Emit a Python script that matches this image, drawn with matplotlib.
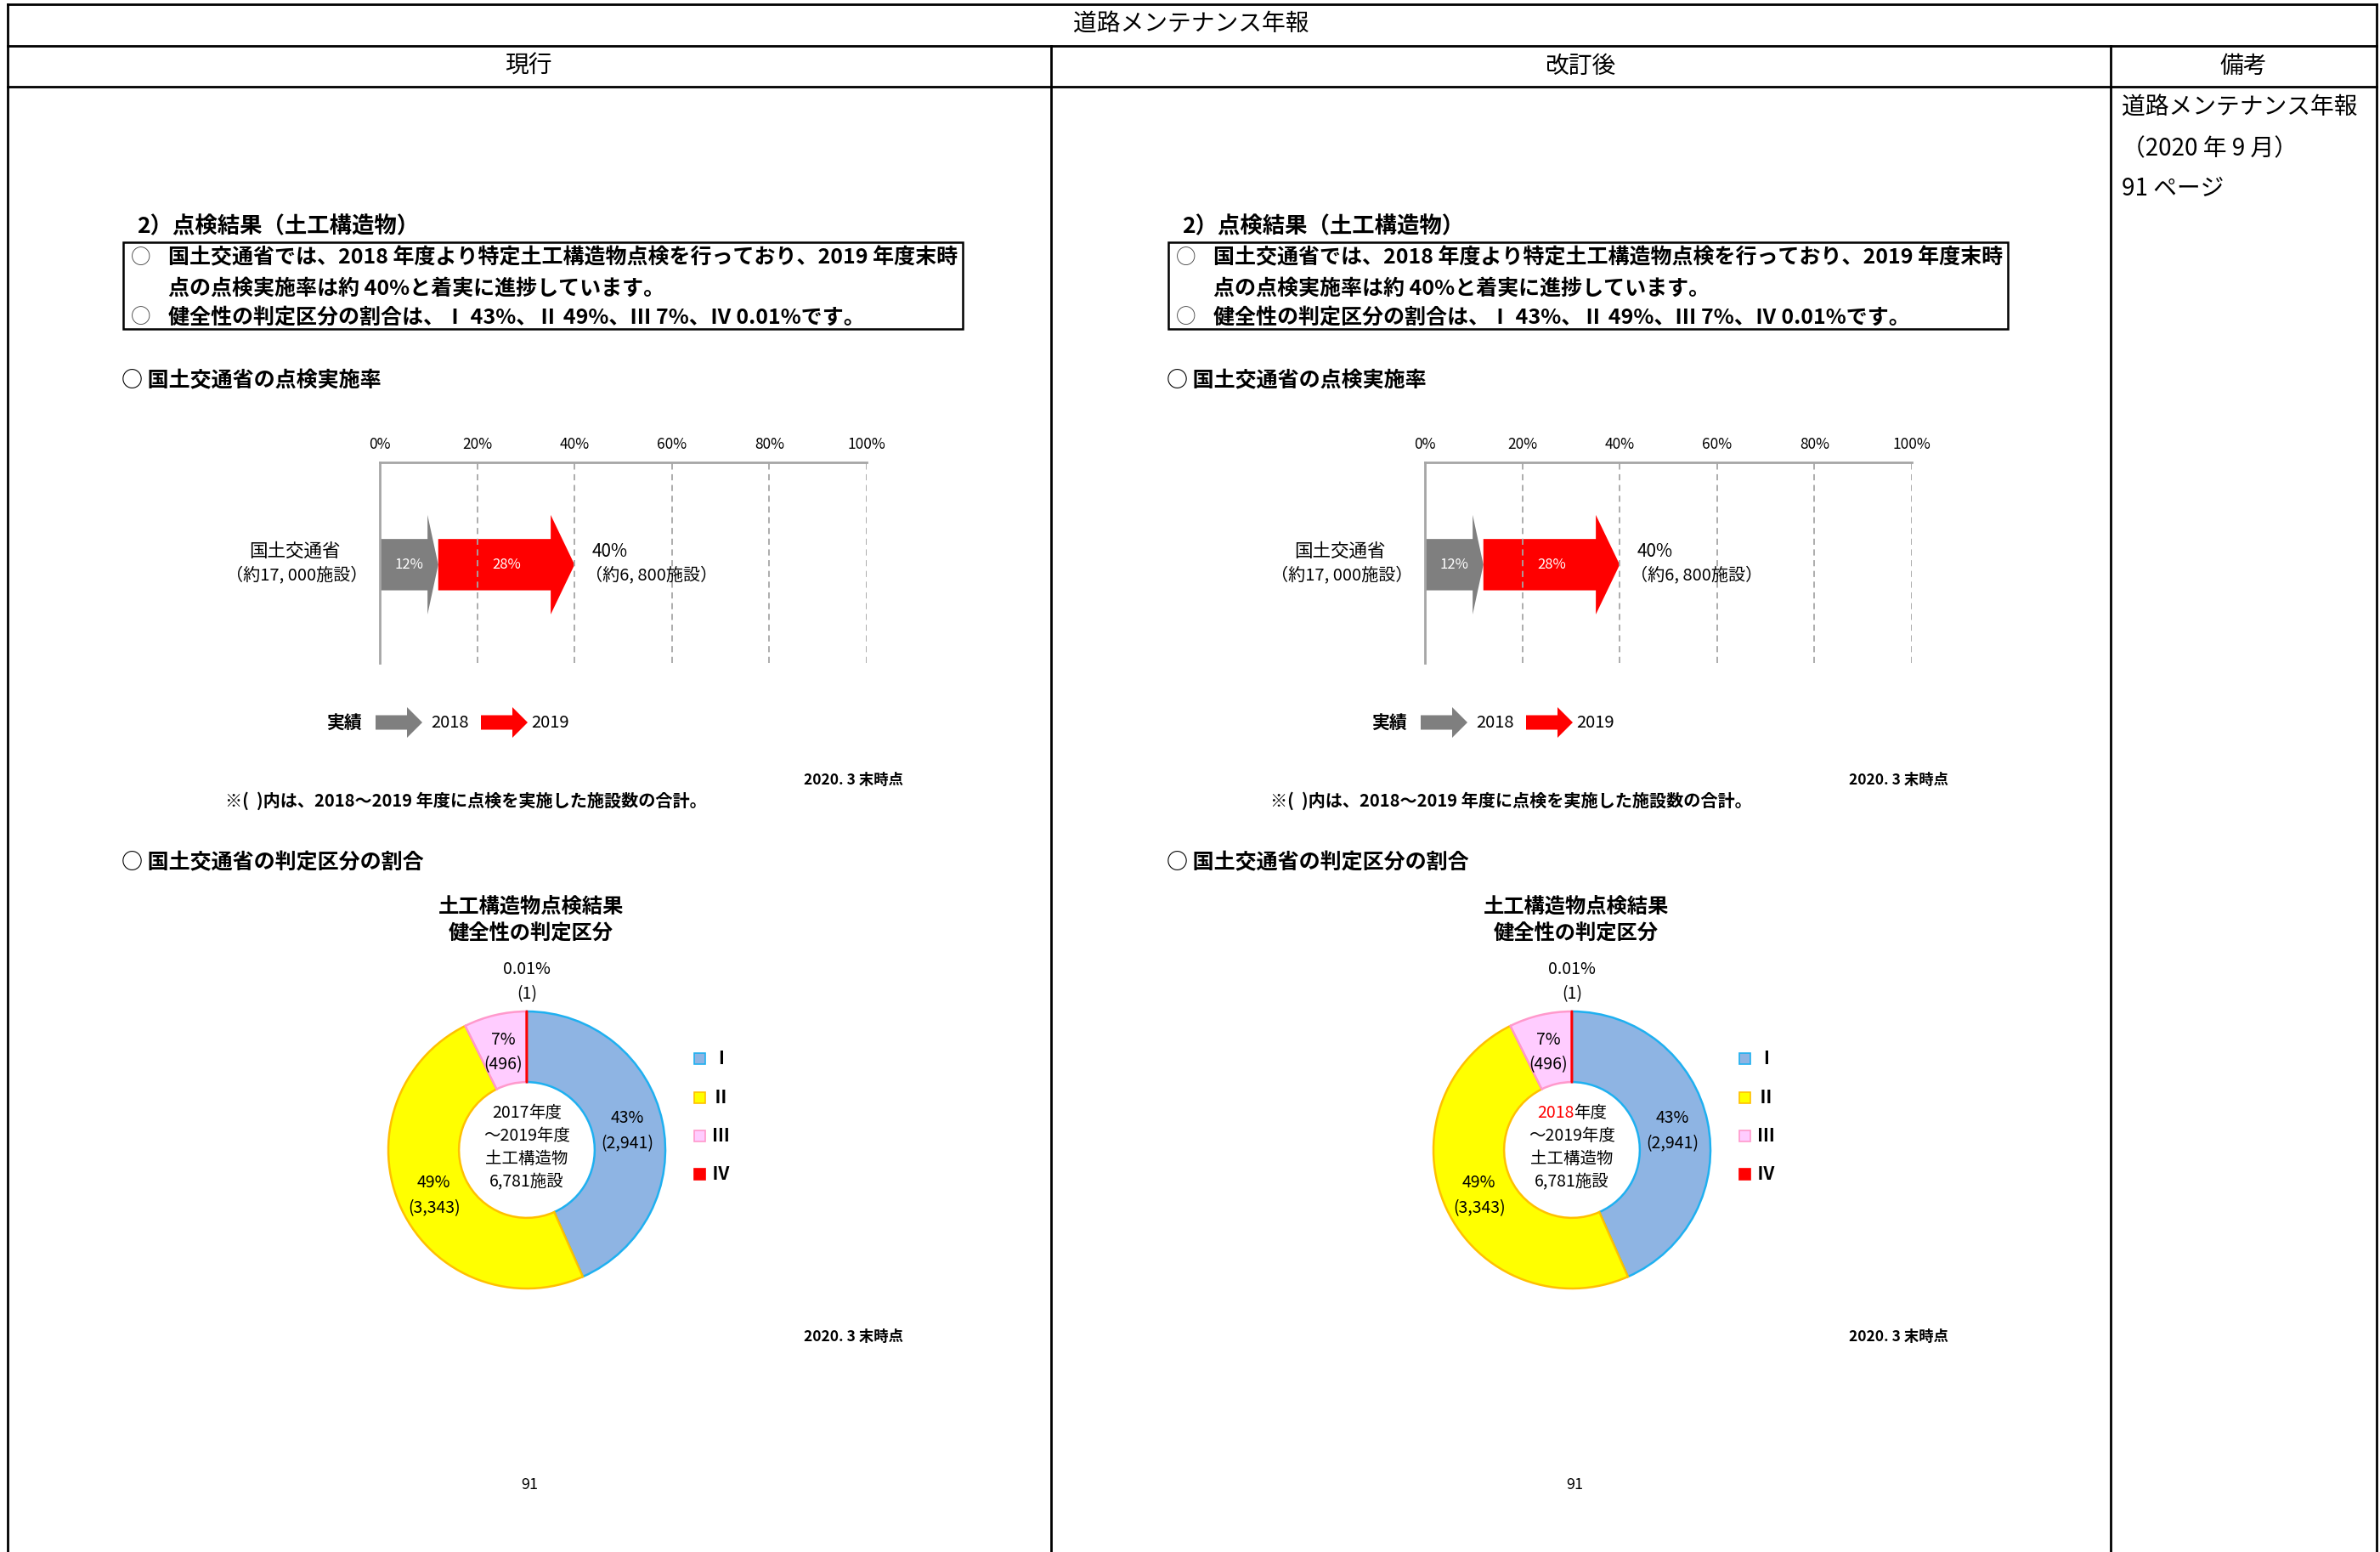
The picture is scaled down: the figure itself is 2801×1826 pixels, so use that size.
import numpy as np
import matplotlib.pyplot as plt
from matplotlib.patches import FancyArrow, Rectangle

plt.rcParams['font.family'] = ['Noto Sans CJK JP', 'DejaVu Sans']

# ---- document text ----
doc_title = '道路メンテナンス年報'
col_heads = ['現行', '改訂後', '備考']
remarks = ['道路メンテナンス年報', '（2020 年 9 月）', '91 ページ']
section_title = '2）点検結果（土工構造物）'
summary_lines = ['国土交通省では、2018 年度より特定土工構造物点検を行っており、2019 年度末時',
                 '点の点検実施率は約 40%と着実に進捗しています。',
                 '健全性の判定区分の割合は、Ⅰ 43%、Ⅱ 49%、Ⅲ 7%、Ⅳ 0.01%です。']

# ---- inspection rate (arrow bar) ----
rate_ticks = [0, 20, 40, 60, 80, 100]
rate_years = ['2018', '2019']
rate_values = [12, 28]
rate_name = ['国土交通省', '（約17, 000施設）']
rate_done = '（約6, 800施設）'
rate_note = '※(  )内は、2018～2019 年度に点検を実施した施設数の合計。'
as_of = '2020. 3 末時点'

# ---- soundness grades (donut) ----
grades = ['Ⅰ', 'Ⅱ', 'Ⅲ', 'Ⅳ']
grade_counts = [2941, 3343, 496, 1]
grade_shares = ['43%', '49%', '7%', '0.01%']
donut_title = ['土工構造物点検結果', '健全性の判定区分']
first_years = ['2017', '2018']      # current / revised
center_rest = ['～2019年度', '土工構造物', '6,781施設']

# styles
rate_colors = ['#7F7F7F', '#FF0000']
grade_fill = ['#8EB4E3', '#FFFF00', '#FFCCFF', '#FF0000']
grade_edge = ['#1FB0F0', '#FFC000', '#FF99CC', '#FF0000']
grid_gray = '#A6A6A6'

W, H = 2801, 1826
fig = plt.figure(figsize=(W / 100, H / 100), dpi=100)
page = fig.add_axes([0, 0, 1, 1])
page.set_xlim(0, W)
page.set_ylim(H, 0)
page.axis('off')


def px_axes(x0, y0, x1, y1):
    return fig.add_axes([x0 / W, 1 - y1 / H, (x1 - x0) / W, (y1 - y0) / H])


# Table frame
lw = 2.0
for y in [5, 54, 102]:
    page.plot([9, 2797], [y, y], color='k', lw=lw, solid_capstyle='projecting')
for x, y0 in [(9, 5), (2797, 5), (1237, 54), (2484, 54)]:
    page.plot([x, x], [y0, H], color='k', lw=lw)

page.text(1402, 29, doc_title, ha='center', va='center', fontsize=20)
for x, s in zip([622, 1860, 2640], col_heads):
    page.text(x, 78, s, ha='center', va='center', fontsize=20)
for y, s in zip([127, 175, 222], remarks):
    page.text(2497, y, s, ha='left', va='center', fontsize=20)


def draw_panel(off, first_year, year_color):
    def t(x, y, s, **kw):
        kw.setdefault('va', 'center')
        return page.text(x + off, y, s, **kw)

    # Section header and summary box
    t(161, 267, section_title, fontsize=19, fontweight='bold')
    page.add_patch(Rectangle((145 + off, 285), 988, 102, fill=False, ec='k', lw=1.8))
    for (x, y), s in zip([(198, 303), (198, 340), (198, 374)], summary_lines):
        t(x, y, s, fontsize=18, fontweight='bold')
    for y in [303, 374]:
        t(166, y, '○', fontsize=17, ha='center', color='#444444')

    # Inspection rate chart
    t(143, 448, '○ 国土交通省の点検実施率', fontsize=18, fontweight='bold')
    ax = px_axes(447 + off, 544, 1020 + off, 780)
    ax.set_xlim(0, 100)
    ax.set_ylim(0, 1)
    for s in ax.spines.values():
        s.set_visible(False)
    ax.set_yticks([])
    ax.xaxis.tick_top()
    ax.set_xticks(rate_ticks)
    ax.set_xticklabels([f'{v}%' for v in rate_ticks], fontsize=12.5)
    ax.tick_params(axis='x', length=0, pad=9)
    for v in rate_ticks[1:]:
        ax.axvline(v, color=grid_gray, lw=1.3, ls=(0, (4, 3)))
    ax.axvline(0, color=grid_gray, lw=2, clip_on=False)
    ax.axhline(1, color=grid_gray, lw=2, clip_on=False)

    left = 0
    for v, c, hl in zip(rate_values, rate_colors, [2.2, 4.9]):
        ax.add_patch(FancyArrow(left, 0.49, v, 0, width=0.256, head_width=0.496,
                                head_length=hl, length_includes_head=True, color=c, lw=0))
        ax.text(left + v / 2, 0.49, f'{v}%', color='white', ha='center', va='center', fontsize=12)
        left += v
    ax.text(left + 3.5, 0.556, f'{left}%', ha='left', va='center', fontsize=15)
    ax.text(left + 2.3, 0.436, rate_done, ha='left', va='center', fontsize=14.5)
    ax.text(-17.5, 0.556, rate_name[0], ha='center', va='center', fontsize=15.5)
    ax.text(-17.0, 0.436, rate_name[1], ha='center', va='center', fontsize=14.5)

    # arrow legend
    t(405, 850, '実績', fontsize=15, fontweight='bold', ha='center')
    for x0, x_txt, c, yr in zip([442, 566], [529, 648], rate_colors, rate_years):
        page.add_patch(FancyArrow(x0 + off, 850, 55, 0, width=17, head_width=36, head_length=18,
                                  length_includes_head=True, color=c, lw=0))
        t(x_txt, 850, yr, fontsize=14.5, ha='center')
    t(1004, 918, as_of, fontsize=12.5, ha='center', fontweight='bold')
    t(548, 942, rate_note, fontsize=14.5, ha='center', fontweight='bold')

    # Donut of soundness grades
    t(143, 1015, '○ 国土交通省の判定区分の割合', fontsize=18, fontweight='bold')
    t(625, 1067, donut_title[0], fontsize=17.5, ha='center', fontweight='bold')
    t(625, 1099, donut_title[1], fontsize=17.5, ha='center', fontweight='bold')

    cx, cy, R = 620 + off, 1353, 163
    box = 190
    dx = px_axes(cx - box, cy - box, cx + box, cy + box)
    wedges, _ = dx.pie(grade_counts, startangle=90, counterclock=False, colors=grade_fill,
                       radius=1, wedgeprops=dict(width=0.51, linewidth=1.8))
    for w, ec in zip(wedges, grade_edge):
        w.set_edgecolor(ec)
    lim = box / R
    dx.set_xlim(-lim, lim)
    dx.set_ylim(-lim, lim)
    dx.axis('off')
    for w, share, n in zip(wedges, grade_shares, grade_counts):
        mid = np.deg2rad((w.theta1 + w.theta2) / 2)
        r = 1.23 if (w.theta2 - w.theta1) < 5 else 0.74
        dx.text(r * np.cos(mid), r * np.sin(mid) - 0.015, f'{share}\n({n:,})', ha='center',
                va='center', fontsize=14, linespacing=1.55)

    d = 0.015
    dx.text(d, 0.265, first_year, color=year_color, ha='right', va='center', fontsize=14)
    dx.text(d, 0.265, '年度', ha='left', va='center', fontsize=14)
    for y, s in zip([0.10, -0.065, -0.23], center_rest):
        dx.text(0, y, s, ha='center', va='center', fontsize=14)

    for i, (g, fc, ec) in enumerate(zip(grades, grade_fill, grade_edge)):
        y = 1246 + 45.3 * i
        page.add_patch(Rectangle((817 + off, y - 6.5), 13, 13, fc=fc, ec=ec, lw=1.2))
        t(838, y, g, fontsize=15, fontweight='bold', ha='left')

    t(1004, 1573, as_of, fontsize=12.5, ha='center', fontweight='bold')
    t(623, 1747, '91', fontsize=13, ha='center')


draw_panel(0, first_years[0], 'black')
draw_panel(1230, first_years[1], '#FF0000')

fig.savefig('out.png', dpi=100, facecolor='white')
